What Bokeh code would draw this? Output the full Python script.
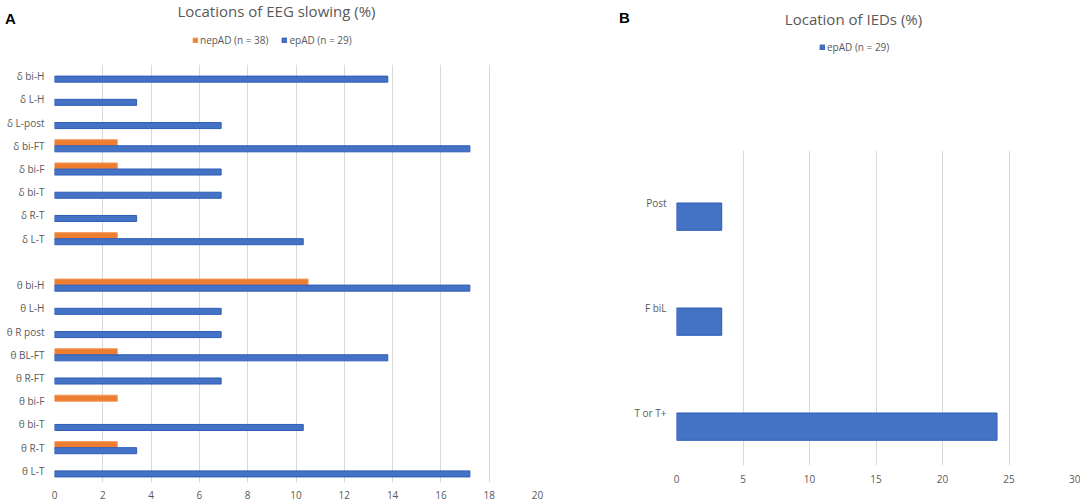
from bokeh.plotting import figure
from bokeh.models import (ColumnDataSource, FactorRange, Range1d, Label, Legend,
                          LegendItem, FixedTicker)
from bokeh.transform import dodge
from bokeh.layouts import row, column
from bokeh.embed import file_html
from bokeh.resources import INLINE

# ---------------- data ----------------
slow_categories = ["δ bi-H", "δ L-H", "δ L-post", "δ bi-FT", "δ bi-F", "δ bi-T", "δ R-T", "δ L-T",
                   " ",
                   "θ bi-H", "θ L-H", "θ R post", "θ BL-FT", "θ R-FT", "θ bi-F", "θ bi-T", "θ R-T", "θ L-T"]
slow_nepAD = [0, 0, 0, 2.6, 2.6, 0, 0, 2.6, 0, 10.5, 0, 0, 2.6, 0, 2.6, 0, 2.6, 0]
slow_epAD = [13.8, 3.4, 6.9, 17.2, 6.9, 6.9, 3.4, 10.3, 0, 17.2, 6.9, 6.9, 13.8, 6.9, 0, 10.3, 3.4, 17.2]
slow_ticks = [0, 2, 4, 6, 8, 10, 12, 14, 16, 18, 20]

ied_categories = ["Post", "F biL", "T or T+"]
ied_epAD = [3.4, 3.4, 24.1]
ied_ticks = [0, 5, 10, 15, 20, 25, 30]

ORANGE = "#ED7D31"
ORANGE_EDGE = "#F29A5E"
BLUE = "#4472C4"
BLUE_EDGE = "#2F5CB8"
GRAY = "#595959"
GRID = "#D9D9D9"
FONT = "Open Sans"


def style(p, ticks, xstandoff):
    p.xgrid.ticker = FixedTicker(ticks=ticks)
    p.xaxis.ticker = FixedTicker(ticks=ticks)
    p.xgrid.grid_line_color = GRID
    p.ygrid.grid_line_color = None
    p.outline_line_color = None
    for ax in (p.xaxis, p.yaxis):
        ax.axis_line_color = None
        ax.major_tick_line_color = None
        ax.minor_tick_line_color = None
        ax.major_tick_out = 0
        ax.major_tick_in = 0
        ax.minor_tick_out = 0
        ax.major_label_text_color = GRAY
        ax.major_label_text_font = FONT
        ax.major_label_text_font_size = "10px"
    p.xaxis.major_label_standoff = xstandoff
    p.yaxis.major_label_standoff = 10
    p.background_fill_color = "white"
    p.border_fill_color = "white"


def header(width, height):
    h = figure(width=width, height=height, output_backend="svg", toolbar_location=None,
               x_range=Range1d(0, width), y_range=Range1d(0, height),
               x_axis_type=None, y_axis_type=None,
               min_border=0, min_border_left=0, min_border_right=0,
               min_border_top=0, min_border_bottom=0)
    h.xgrid.grid_line_color = None
    h.ygrid.grid_line_color = None
    h.outline_line_color = None
    h.background_fill_color = "white"
    h.border_fill_color = "white"
    return h


def legend(items, loc, spacing):
    return Legend(items=items, orientation="horizontal", location=loc,
                  glyph_width=6, glyph_height=6, label_text_font=FONT,
                  label_text_font_size="10px", label_text_color=GRAY,
                  label_height=12, inactive_fill_alpha=0,
                  background_fill_alpha=0, border_line_color=None,
                  padding=0, spacing=spacing, label_standoff=2, margin=0)


nep_src = ColumnDataSource(dict(
    cat=[c for c, v in zip(slow_categories, slow_nepAD) if v > 0],
    val=[v for v in slow_nepAD if v > 0]))
ep_src = ColumnDataSource(dict(
    cat=[c for c, v in zip(slow_categories, slow_epAD) if v > 0],
    val=[v for v in slow_epAD if v > 0]))
ied_src = ColumnDataSource(dict(cat=ied_categories, val=ied_epAD))

# ---------------- panel A ----------------
ha = header(545, 64)
# legend proxies (hidden renderers sharing the series data)
lg_nep = ha.hbar(y="val", left=0, right="val", height=0.26, source=nep_src, visible=False,
                 fill_color=ORANGE, line_color=ORANGE_EDGE)
lg_ep = ha.hbar(y="val", left=0, right="val", height=0.26, source=ep_src, visible=False,
                fill_color=BLUE, line_color=BLUE_EDGE)
ha.add_layout(legend([LegendItem(label="nepAD (n = 38)", renderers=[lg_nep]),
                      LegendItem(label="epAD (n = 29)", renderers=[lg_ep])], (192, 17), 13),
              "center")
ha.add_layout(Label(x=276, y=54, x_units="screen", y_units="screen",
                    text="Locations of EEG slowing (%)", text_align="center",
                    text_baseline="middle", text_font=FONT, text_font_size="15px",
                    text_color=GRAY))
ha.add_layout(Label(x=10, y=46, x_units="screen", y_units="screen", text="A",
                    text_align="center", text_baseline="middle", text_font="Liberation Sans",
                    text_font_style="bold", text_font_size="15px", text_color="black"))

pa = figure(width=545, height=438, output_backend="svg", toolbar_location=None,
            y_range=FactorRange(factors=list(reversed(slow_categories))),
            x_range=Range1d(0, 20),
            min_border_left=54, min_border_right=8, min_border_top=0, min_border_bottom=20)
style(pa, slow_ticks, 8)

pa.hbar(y=dodge("cat", 0.13, range=pa.y_range), left=0, right="val", height=0.26,
        source=nep_src, fill_color=ORANGE, line_color=ORANGE_EDGE, line_width=1)
pa.hbar(y=dodge("cat", -0.13, range=pa.y_range), left=0, right="val", height=0.26,
        source=ep_src, fill_color=BLUE, line_color=BLUE_EDGE, line_width=1)

# ---------------- panel B ----------------
hb = header(535, 150)
lg_ied = hb.hbar(y="val", left=0, right="val", height=0.26, source=ied_src, visible=False,
                 fill_color=BLUE, line_color=BLUE_EDGE)
hb.add_layout(legend([LegendItem(label="epAD (n = 29)", renderers=[lg_ied])], (274, 96), 13),
              "center")
hb.add_layout(Label(x=308, y=132, x_units="screen", y_units="screen",
                    text="Location of IEDs (%)", text_align="center",
                    text_baseline="middle", text_font=FONT, text_font_size="15px",
                    text_color=GRAY))
hb.add_layout(Label(x=79, y=133, x_units="screen", y_units="screen", text="B",
                    text_align="center", text_baseline="middle", text_font="Liberation Sans",
                    text_font_style="bold", text_font_size="15px", text_color="black"))

pb = figure(width=535, height=352, output_backend="svg", toolbar_location=None,
            y_range=FactorRange(factors=list(reversed(ied_categories))),
            x_range=Range1d(0, 30),
            min_border_left=131, min_border_right=5, min_border_top=0, min_border_bottom=37)
style(pb, ied_ticks, 9)

pb.hbar(y=dodge("cat", -0.13, range=pb.y_range), left=0, right="val", height=0.26,
        source=ied_src, fill_color=BLUE, line_color=BLUE_EDGE, line_width=1)

layout = row(column(row(ha), row(pa)), column(row(hb), row(pb)))
open("out.html", "w").write(file_html(layout, INLINE))
